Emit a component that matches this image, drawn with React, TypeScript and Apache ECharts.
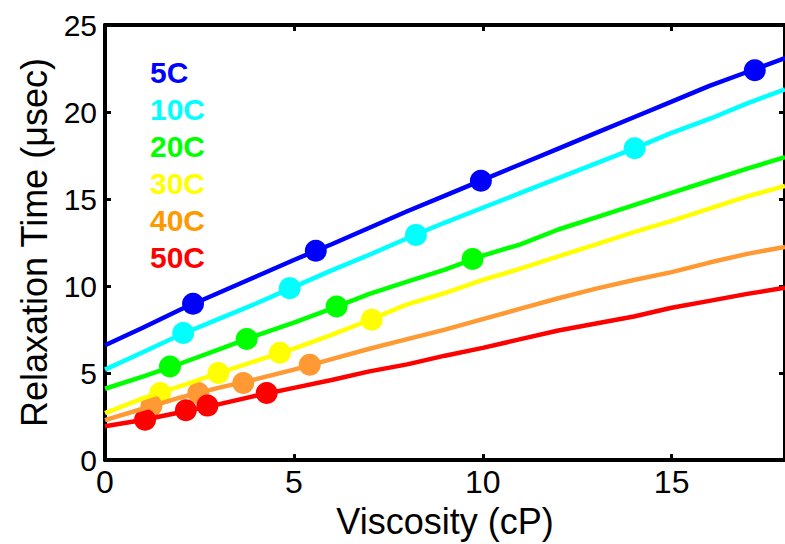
import React, { useEffect, useRef } from "react";
import * as echarts from "echarts";

const xGrid = [0, 1, 2, 3, 4, 5, 6, 7, 8, 9, 10, 11, 12, 13, 14, 15, 16, 17, 18];

const line5C = [6.6, 7.6, 8.65, 9.6, 10.55, 11.5, 12.4, 13.35, 14.3, 15.2, 16.1, 17.0, 17.9, 18.8, 19.7, 20.6, 21.5, 22.3, 23.1];
const line10C = [5.2, 6.2, 7.2, 8.1, 9.0, 9.95, 10.9, 11.8, 12.75, 13.65, 14.5, 15.35, 16.2, 17.05, 17.9, 18.8, 19.6, 20.5, 21.3];
const line20C = [4.1, 4.8, 5.55, 6.35, 7.15, 7.9, 8.7, 9.55, 10.25, 10.95, 11.75, 12.4, 13.25, 13.95, 14.65, 15.35, 16.05, 16.75, 17.4];
const line30C = [2.7, 3.55, 4.25, 5.0, 5.7, 6.4, 7.2, 8.05, 8.95, 9.6, 10.35, 11.0, 11.7, 12.4, 13.1, 13.75, 14.45, 15.15, 15.75];
const line40C = [2.3, 2.95, 3.6, 4.15, 4.65, 5.2, 5.8, 6.4, 6.95, 7.5, 8.1, 8.7, 9.3, 9.85, 10.35, 10.8, 11.35, 11.85, 12.25];
const line50C = [1.95, 2.3, 2.75, 3.2, 3.7, 4.15, 4.6, 5.1, 5.5, 6.0, 6.45, 6.95, 7.45, 7.85, 8.25, 8.75, 9.15, 9.55, 9.9];

const pts5C = [[2.33, 8.98], [5.58, 12.03], [9.95, 16.05], [17.2, 22.4]];
const pts10C = [[2.07, 7.3], [4.89, 9.88], [8.23, 12.94], [14.02, 17.92]];
const pts20C = [[1.72, 5.38], [3.75, 6.96], [6.13, 8.83], [9.73, 11.55]];
const pts30C = [[1.46, 3.86], [3.0, 5.0], [4.63, 6.17], [7.06, 8.07]];
const pts40C = [[1.23, 3.13], [2.47, 3.86], [3.66, 4.43], [5.42, 5.48]];
const pts50C = [[1.06, 2.32], [2.14, 2.86], [2.71, 3.13], [4.28, 3.86]];

const labels = ["5C", "10C", "20C", "30C", "40C", "50C"];
const colors = ["#0000ff", "#00ffff", "#00ff00", "#ffff00", "#ff9933", "#ff0000"];
const textColors = ["#0000ff", "#00ffff", "#00ff00", "#ffff00", "#ff9900", "#ff0000"];
const lines = [line5C, line10C, line20C, line30C, line40C, line50C];
const points = [pts5C, pts10C, pts20C, pts30C, pts40C, pts50C];

const FONT = "Liberation Sans, Arial, Helvetica, sans-serif";

export default function App() {
  const ref = useRef<HTMLDivElement>(null);
  useEffect(() => {
    if (!ref.current) return;
    const chart = echarts.init(ref.current, null, { renderer: "svg" });
    const series: any[] = [];
    labels.forEach((name, i) => {
      series.push({
        type: "line",
        name,
        data: xGrid.map((x, k) => [x, lines[i][k]]),
        showSymbol: false,
        symbol: "none",
        lineStyle: { color: colors[i], width: 4.5 },
        xAxisIndex: 0,
        yAxisIndex: 0,
      });
      series.push({
        type: "scatter",
        name: name + " data",
        data: points[i],
        symbol: "circle",
        symbolSize: 22,
        itemStyle: { color: colors[i], opacity: 1 },
        xAxisIndex: 0,
        yAxisIndex: 0,
      });
    });
    const tickStyle = { show: true, inside: true, length: 6, lineStyle: { color: "#000", width: 3 } };
    chart.setOption({
      animation: false,
      textStyle: { fontFamily: FONT },
      grid: { left: 105, right: -2, top: 25, bottom: 83, containLabel: false },
      xAxis: [
        {
          type: "value",
          min: 0,
          max: 18,
          interval: 5,
          position: "bottom",
          name: "Viscosity (cP)",
          nameLocation: "middle",
          nameGap: 42,
          nameTextStyle: { fontSize: 36, color: "#000", fontFamily: FONT },
          axisLine: { show: true, lineStyle: { color: "#000", width: 4 } },
          axisTick: tickStyle,
          axisLabel: { fontSize: 32, color: "#000", margin: 6, showMaxLabel: false, fontFamily: FONT },
          splitLine: { show: false },
        },
        {
          type: "value",
          min: 0,
          max: 18,
          interval: 5,
          position: "top",
          axisLine: { show: true, onZero: false, lineStyle: { color: "#000", width: 4 } },
          axisTick: tickStyle,
          axisLabel: { show: false },
          splitLine: { show: false },
        },
      ],
      yAxis: [
        {
          type: "value",
          min: 0,
          max: 25,
          interval: 5,
          position: "left",
          name: "Relaxation Time (μsec)",
          nameLocation: "middle",
          nameGap: 52,
          nameTextStyle: { fontSize: 36, color: "#000", fontFamily: FONT },
          axisLine: { show: true, lineStyle: { color: "#000", width: 4 } },
          axisTick: tickStyle,
          axisLabel: { fontSize: 30, color: "#000", margin: 8, fontFamily: FONT },
          splitLine: { show: false },
        },
        {
          type: "value",
          min: 0,
          max: 25,
          interval: 5,
          position: "right",
          axisLine: { show: true, onZero: false, lineStyle: { color: "#000", width: 4 } },
          axisTick: tickStyle,
          axisLabel: { show: false },
          splitLine: { show: false },
        },
      ],
      graphic: labels.map((name, i) => ({
        type: "text",
        left: 150,
        top: 74 + i * 37 - 17,
        z: 100,
        style: {
          text: name,
          fill: textColors[i],
          font: `bold 30px ${FONT}`,
        },
      })),
      series,
    });
    return () => chart.dispose();
  }, []);
  return (
    <div
      ref={ref}
      style={{ position: "fixed", left: 0, top: 0, width: 785, height: 544, background: "#fff" }}
    />
  );
}
